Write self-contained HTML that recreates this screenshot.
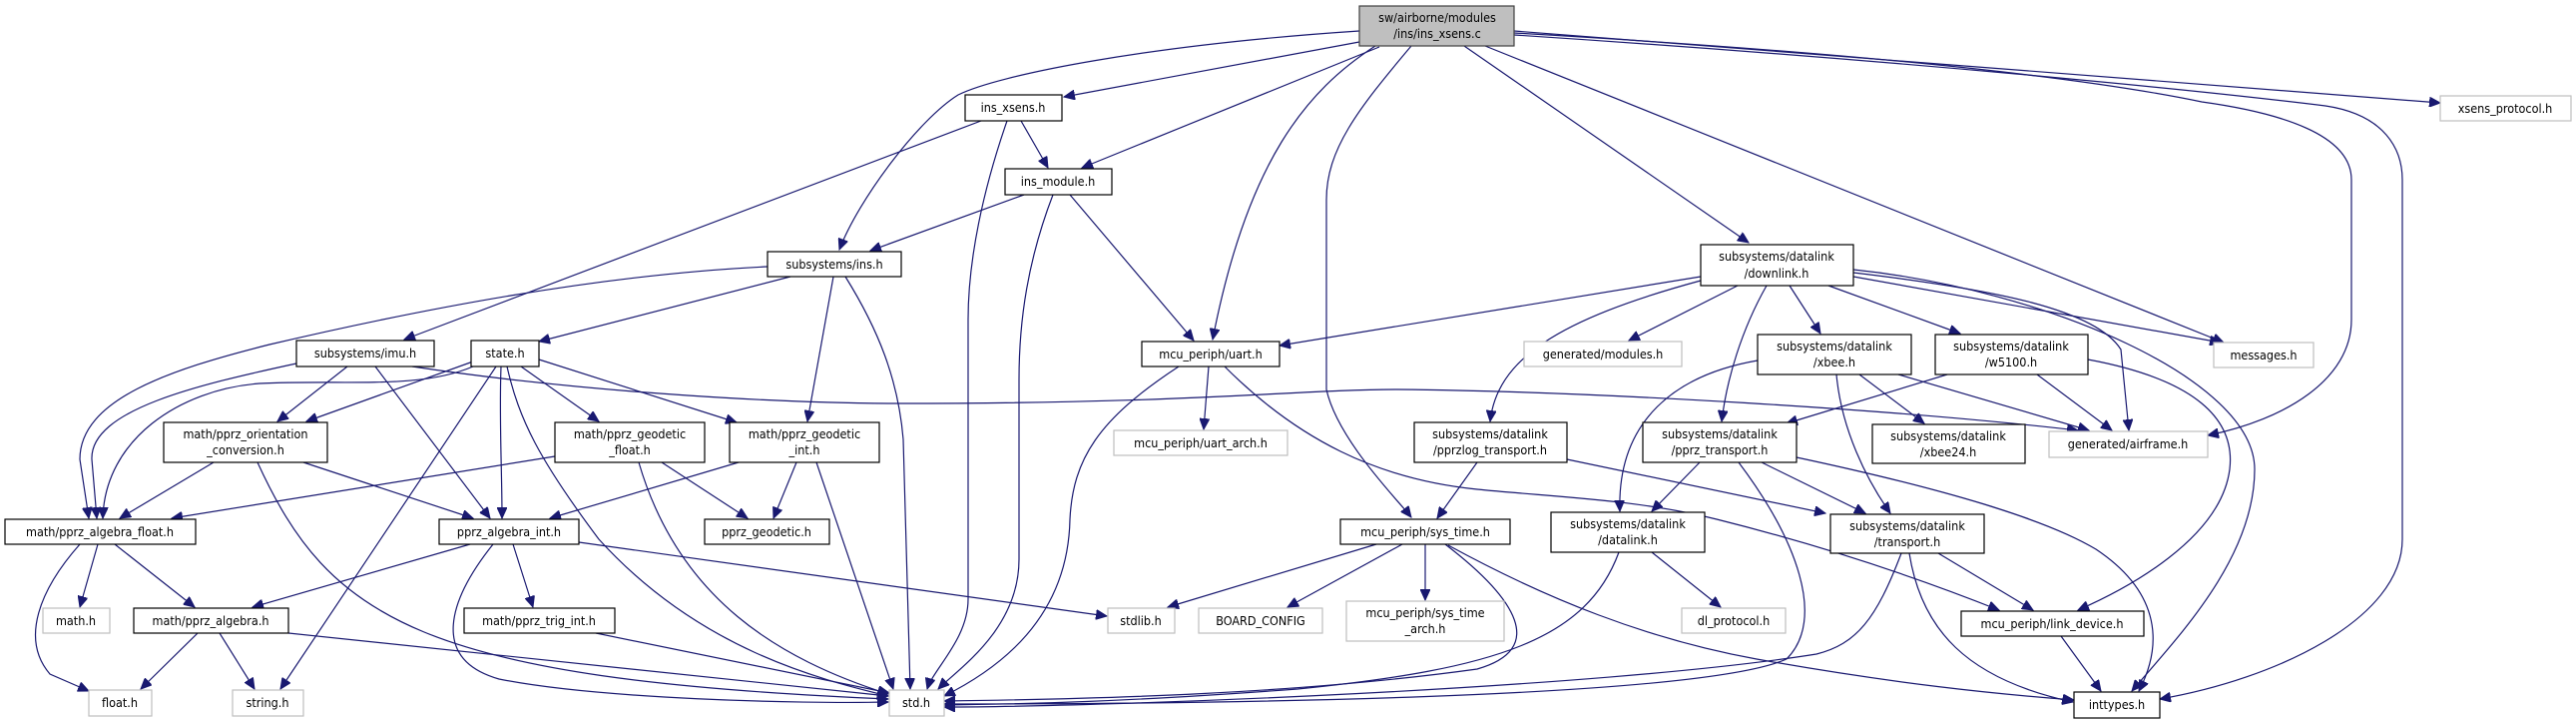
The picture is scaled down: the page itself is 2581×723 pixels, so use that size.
<!DOCTYPE html>
<html><head><meta charset="utf-8"><style>
html,body{margin:0;padding:0;background:#fff;}
svg{display:block;}
text{font-family:"DejaVu Sans Condensed","DejaVu Sans","Liberation Sans",sans-serif;font-size:12.5px;fill:#000;text-anchor:middle;}
.n{fill:#fff;stroke:#000;stroke-width:1.2;}
.g{fill:#fff;stroke:#bfbfbf;stroke-width:1.2;}
.r{fill:#bfbfbf;stroke:#404040;stroke-width:1.2;}
path.e{fill:none;stroke:#191970;stroke-width:1.2;marker-end:url(#a);}
</style></head><body>
<svg width="2581" height="723" viewBox="0 0 2581 723" xmlns="http://www.w3.org/2000/svg">
<defs><marker id="a" markerUnits="userSpaceOnUse" markerWidth="12" markerHeight="10" refX="11" refY="5" orient="auto"><path d="M0,0 L11,5 L0,10 z" fill="#191970" stroke="#191970"/></marker></defs>

<!-- edges -->
<path class="e" d="M1362,31 C1150,45 1000,75 960,95 C920,120 860,200 841,250"/>
<path class="e" d="M1362,42 L1066,97"/>
<path class="e" d="M1382,47 L1084,168"/>
<path class="e" d="M1378,46 C1310,90 1250,160 1215,340"/>
<path class="e" d="M1414,46 C1360,110 1329,150 1329,200 L1329,390 C1340,440 1400,500 1414,518"/>
<path class="e" d="M1467,46 L1752,243"/>
<path class="e" d="M1488,46 L2228,343"/>
<path class="e" d="M1517,31 L2445,103"/>
<path class="e" d="M1517,33 C1900,55 2100,80 2206,102 C2300,115 2356,140 2356,180 L2356,320 C2356,380 2290,420 2212,436"/>
<path class="e" d="M1517,35 C1900,60 2200,90 2330,106 C2390,115 2407,150 2407,180 L2407,540 C2407,620 2280,680 2164,700"/>

<path class="e" d="M1023,121 L1050,168"/>
<path class="e" d="M1009,121 C985,190 970,260 970,320 L970,600 C970,640 935,670 929,690"/>
<path class="e" d="M983,121 L405,340"/>

<path class="e" d="M1026,195 L872,251"/>
<path class="e" d="M1055,195 C1030,260 1021,320 1021,380 L1021,560 C1021,630 960,670 940,690"/>
<path class="e" d="M1072,195 L1196,341"/>

<path class="e" d="M769,267 C600,275 420,310 270,345 C170,370 80,400 80,460 L89,519"/>
<path class="e" d="M792,277 L540,342"/>
<path class="e" d="M835,277 L809,422"/>
<path class="e" d="M847,277 C880,330 900,380 905,440 L912,690"/>

<path class="e" d="M348,367 L278,422"/>
<path class="e" d="M297,364 C200,385 90,410 92,460 L97,519"/>
<path class="e" d="M376,367 L491,519"/>
<path class="e" d="M413,367 C600,395 800,404 900,404 C1200,404 1300,390 1400,390 C1600,392 1900,410 2082,431"/>

<path class="e" d="M474,367 C420,390 350,380 260,384 C180,390 105,440 103,519"/>
<path class="e" d="M474,362 L307,422"/>
<path class="e" d="M522,367 L600,422"/>
<path class="e" d="M540,360 L738,423"/>
<path class="e" d="M502,367 C500,420 503,470 503,519"/>
<path class="e" d="M497,367 L281,690"/>
<path class="e" d="M508,367 C520,420 540,460 600,540 C700,650 820,680 890,697"/>

<path class="e" d="M214,463 L120,519"/>
<path class="e" d="M304,463 L474,519"/>
<path class="e" d="M258,463 C330,620 420,680 890,700"/>

<path class="e" d="M556,457 L172,519"/>
<path class="e" d="M663,463 L749,519"/>
<path class="e" d="M640,463 C680,600 780,660 890,695"/>

<path class="e" d="M740,463 L551,519"/>
<path class="e" d="M798,463 L775,519"/>
<path class="e" d="M818,463 L895,690"/>

<path class="e" d="M80,545 C40,590 20,640 50,675 L89,692"/>
<path class="e" d="M98,545 L80,608"/>
<path class="e" d="M115,545 L195,608"/>

<path class="e" d="M471,545 L253,608"/>
<path class="e" d="M514,545 L534,608"/>
<path class="e" d="M494,545 C450,600 430,660 500,680 C600,700 800,705 890,703"/>
<path class="e" d="M580,543 L1109,617"/>

<path class="e" d="M198,634 L141,690"/>
<path class="e" d="M220,634 L255,690"/>
<path class="e" d="M289,634 L890,697"/>
<path class="e" d="M597,634 L891,694"/>

<path class="e" d="M1211,367 L1206,430"/>
<path class="e" d="M1181,367 C1100,420 1075,460 1072,520 C1070,620 1000,670 946,697"/>
<path class="e" d="M1227,367 C1300,440 1380,480 1480,490 C1560,498 1640,500 1720,520 C1800,540 1900,570 2003,611"/>

<path class="e" d="M1704,277 L1282,346"/>
<path class="e" d="M1741,286 L1632,341"/>
<path class="e" d="M1704,281 C1560,320 1500,360 1493,422"/>
<path class="e" d="M1770,286 C1745,330 1730,380 1725,422"/>
<path class="e" d="M1793,286 L1824,334"/>
<path class="e" d="M1832,286 L1964,334"/>
<path class="e" d="M1857,277 L2225,343"/>
<path class="e" d="M1857,273 C2000,290 2100,310 2125,350 L2133,431"/>
<path class="e" d="M1857,270 C2050,290 2259,380 2259,470 C2259,560 2180,640 2136,692"/>

<path class="e" d="M1761,361 C1680,375 1620,420 1623,512"/>
<path class="e" d="M1840,375 C1845,430 1870,480 1894,514"/>
<path class="e" d="M1863,375 L1928,424"/>
<path class="e" d="M1902,375 L2093,431"/>

<path class="e" d="M1951,375 L1790,424"/>
<path class="e" d="M2041,375 L2116,431"/>
<path class="e" d="M2092,360 C2200,380 2240,420 2234,470 C2225,540 2130,590 2082,611"/>

<path class="e" d="M1480,463 L1440,519"/>
<path class="e" d="M1570,460 L1829,514"/>

<path class="e" d="M1703,463 L1655,512"/>
<path class="e" d="M1765,463 L1869,514"/>
<path class="e" d="M1742,463 C1800,540 1830,620 1790,660 C1700,700 1200,705 946,705"/>
<path class="e" d="M1800,458 C1950,490 2050,520 2100,550 C2160,590 2170,640 2143,692"/>

<path class="e" d="M1379,545 L1170,608"/>
<path class="e" d="M1405,545 L1290,608"/>
<path class="e" d="M1428,545 L1428,601"/>
<path class="e" d="M1448,545 C1520,600 1550,650 1480,670 C1300,695 1100,700 946,702"/>
<path class="e" d="M1451,546 C1550,600 1650,640 1760,660 C1900,685 2000,695 2078,701"/>

<path class="e" d="M1655,553 L1724,608"/>
<path class="e" d="M1622,553 C1590,640 1500,670 1300,690 C1100,705 1000,705 946,706"/>

<path class="e" d="M1942,554 L2037,611"/>
<path class="e" d="M1905,554 C1880,620 1860,645 1820,655 C1600,690 1100,708 946,708"/>
<path class="e" d="M1913,554 C1925,630 1970,680 2077,703"/>

<path class="e" d="M2065,637 L2105,692"/>

<!-- nodes -->
<rect class="r" x="1362" y="6" width="155" height="40"/>
<text x="1440" y="22">sw/airborne/modules</text><text x="1440" y="38">/ins/ins_xsens.c</text>

<rect class="n" x="967" y="95" width="97" height="26"/><text x="1015" y="112">ins_xsens.h</text>
<rect class="n" x="1007" y="169" width="107" height="26"/><text x="1060" y="186">ins_module.h</text>
<rect class="n" x="769" y="252" width="134" height="25"/><text x="836" y="269">subsystems/ins.h</text>
<rect class="n" x="297" y="341" width="138" height="26"/><text x="366" y="358">subsystems/imu.h</text>
<rect class="n" x="472" y="341" width="68" height="26"/><text x="506" y="358">state.h</text>
<rect class="n" x="1144" y="342" width="138" height="25"/><text x="1213" y="359">mcu_periph/uart.h</text>
<rect class="g" x="1527" y="342" width="158" height="25"/><text x="1606" y="359">generated/modules.h</text>
<rect class="n" x="1704" y="245" width="153" height="41"/><text x="1780" y="261">subsystems/datalink</text><text x="1780" y="278">/downlink.h</text>
<rect class="g" x="2445" y="96" width="131" height="25"/><text x="2510" y="113">xsens_protocol.h</text>
<rect class="g" x="2218" y="343" width="100" height="25"/><text x="2268" y="360">messages.h</text>
<rect class="n" x="1761" y="335" width="154" height="40"/><text x="1838" y="351">subsystems/datalink</text><text x="1838" y="367">/xbee.h</text>
<rect class="n" x="1939" y="335" width="153" height="40"/><text x="2015" y="351">subsystems/datalink</text><text x="2015" y="367">/w5100.h</text>
<rect class="n" x="164" y="423" width="164" height="40"/><text x="246" y="439">math/pprz_orientation</text><text x="246" y="455">_conversion.h</text>
<rect class="n" x="556" y="423" width="150" height="40"/><text x="631" y="439">math/pprz_geodetic</text><text x="631" y="455">_float.h</text>
<rect class="n" x="731" y="423" width="150" height="40"/><text x="806" y="439">math/pprz_geodetic</text><text x="806" y="455">_int.h</text>
<rect class="g" x="1116" y="431" width="174" height="25"/><text x="1203" y="448">mcu_periph/uart_arch.h</text>
<rect class="n" x="1417" y="423" width="153" height="40"/><text x="1493" y="439">subsystems/datalink</text><text x="1493" y="455">/pprzlog_transport.h</text>
<rect class="n" x="1646" y="423" width="154" height="40"/><text x="1723" y="439">subsystems/datalink</text><text x="1723" y="455">/pprz_transport.h</text>
<rect class="n" x="1876" y="425" width="153" height="39"/><text x="1952" y="441">subsystems/datalink</text><text x="1952" y="457">/xbee24.h</text>
<rect class="g" x="2053" y="432" width="159" height="26"/><text x="2132" y="449">generated/airframe.h</text>
<rect class="n" x="5" y="520" width="191" height="25"/><text x="100" y="537">math/pprz_algebra_float.h</text>
<rect class="n" x="440" y="520" width="140" height="25"/><text x="510" y="537">pprz_algebra_int.h</text>
<rect class="n" x="706" y="520" width="125" height="25"/><text x="768" y="537">pprz_geodetic.h</text>
<rect class="n" x="1343" y="520" width="170" height="25"/><text x="1428" y="537">mcu_periph/sys_time.h</text>
<rect class="n" x="1554" y="513" width="154" height="40"/><text x="1631" y="529">subsystems/datalink</text><text x="1631" y="545">/datalink.h</text>
<rect class="n" x="1834" y="515" width="154" height="39"/><text x="1911" y="531">subsystems/datalink</text><text x="1911" y="547">/transport.h</text>
<rect class="g" x="43" y="609" width="67" height="25"/><text x="76" y="626">math.h</text>
<rect class="n" x="134" y="609" width="155" height="25"/><text x="211" y="626">math/pprz_algebra.h</text>
<rect class="n" x="465" y="609" width="151" height="25"/><text x="540" y="626">math/pprz_trig_int.h</text>
<rect class="g" x="1110" y="609" width="67" height="25"/><text x="1143" y="626">stdlib.h</text>
<rect class="g" x="1201" y="609" width="124" height="25"/><text x="1263" y="626">BOARD_CONFIG</text>
<rect class="g" x="1349" y="602" width="158" height="40"/><text x="1428" y="618">mcu_periph/sys_time</text><text x="1428" y="634">_arch.h</text>
<rect class="g" x="1685" y="609" width="104" height="25"/><text x="1737" y="626">dl_protocol.h</text>
<rect class="n" x="1965" y="612" width="183" height="25"/><text x="2056" y="629">mcu_periph/link_device.h</text>
<rect class="g" x="89" y="691" width="63" height="26"/><text x="120" y="708">float.h</text>
<rect class="g" x="233" y="691" width="71" height="26"/><text x="268" y="708">string.h</text>
<rect class="g" x="891" y="691" width="55" height="26"/><text x="918" y="708">std.h</text>
<rect class="n" x="2078" y="693" width="86" height="26"/><text x="2121" y="710">inttypes.h</text>
</svg>
</body></html>
